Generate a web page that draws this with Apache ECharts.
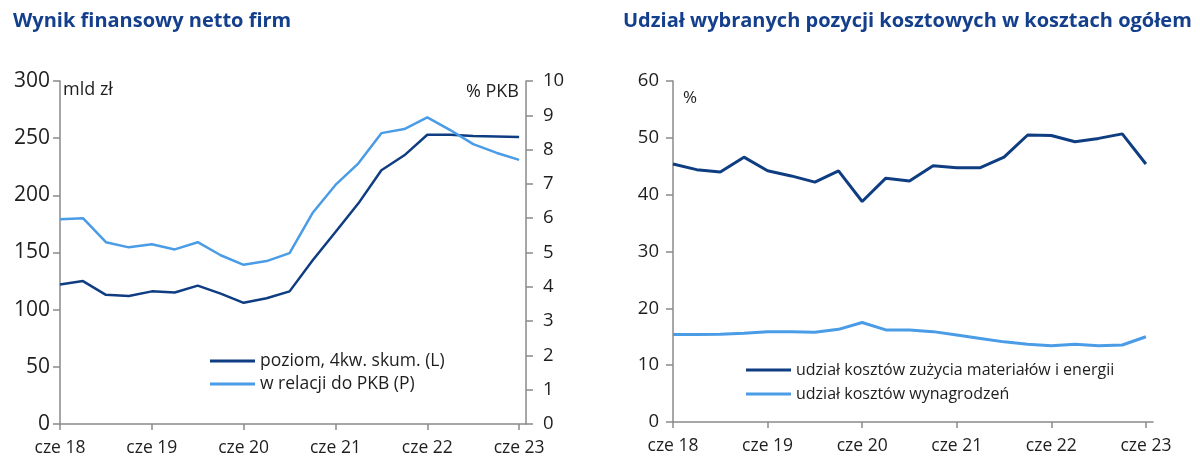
<!DOCTYPE html>
<html>
<head>
<meta charset="utf-8">
<script src="https://cdn.jsdelivr.net/npm/echarts@6/dist/echarts.min.js"></script>
<style>
  html, body { margin: 0; padding: 0; background: #fff; }
  #chart-container { width: 1200px; height: 470px; }
</style>
</head>
<body>
<div id="chart-container"></div>
<script>
// quarters from cze 18 to cze 23 (index 0..20)
var tickLabels = ["cze 18", "cze 19", "cze 20", "cze 21", "cze 22", "cze 23"];
var tickPos = [0, 4, 8, 12, 16, 20];

// left chart: wynik finansowy netto
var poziom = [122, 125, 113, 112, 116, 115, 121, 114, 106, 110, 116, 143, 168, 193, 222, 235, 253, 253, 252, 251.5, 251];
var relacjaPKB = [5.97, 6.0, 5.3, 5.15, 5.24, 5.09, 5.3, 4.92, 4.64, 4.75, 4.98, 6.15, 6.97, 7.6, 8.48, 8.6, 8.94, 8.57, 8.16, 7.91, 7.7];

// right chart: udzial kosztow
var materialy = [45.4, 44.4, 44.0, 46.6, 44.2, 43.3, 42.2, 44.2, 38.8, 42.9, 42.4, 45.1, 44.75, 44.75, 46.6, 50.5, 50.4, 49.3, 49.9, 50.7, 45.4];
var wynagrodzenia = [15.4, 15.4, 15.45, 15.6, 15.9, 15.9, 15.8, 16.3, 17.5, 16.2, 16.2, 15.9, 15.3, 14.7, 14.1, 13.7, 13.4, 13.7, 13.4, 13.55, 15.0];

var darkBlue = "#0f3d82";
var lightBlue = "#4a9ce6";
var axisGray = "#8a8a8a";
var textColor = "#1e1e1e";
var font = "Open Sans";

function pairs(arr) {
  return arr.map(function (v, i) { return [i, v]; });
}

function xAxisFor(gridIndex) {
  return {
    type: "value",
    gridIndex: gridIndex,
    min: 0,
    max: 20.3,
    interval: 4,
    splitLine: { show: false },
    axisLine: { lineStyle: { color: axisGray, width: 1.5 } },
    axisTick: { show: true, length: 6, customValues: tickPos, lineStyle: { color: axisGray, width: 1.5 } },
    axisLabel: {
      customValues: tickPos,
      margin: 15,
      color: textColor,
      fontFamily: font,
      fontSize: 17.5,
      formatter: function (v) { return tickLabels[Math.round(v / 4)] || ""; }
    }
  };
}

var dom = document.getElementById("chart-container");
var myChart = echarts.init(dom, null, { renderer: "canvas" });

var option = {
  animation: false,
  textStyle: { fontFamily: font },
  title: [
    {
      text: "Wynik finansowy netto firm",
      left: 8, top: 6,
      textStyle: { color: "#143f8c", fontSize: 20, fontWeight: "bold", fontFamily: font }
    },
    {
      text: "Udział wybranych pozycji kosztowych w kosztach ogółem",
      left: 618, top: 6,
      textStyle: { color: "#143f8c", fontSize: 20, fontWeight: "bold", fontFamily: font }
    }
  ],
  grid: [
    { left: 60, right: 674, top: 81, bottom: 46 },
    { left: 673, right: 47, top: 81, bottom: 48 }
  ],
  xAxis: [xAxisFor(0), xAxisFor(1)],
  yAxis: [
    {
      type: "value", gridIndex: 0, min: 0, max: 300, interval: 50,
      splitLine: { show: false },
      axisLine: { show: true, lineStyle: { color: axisGray, width: 1.5 } },
      axisTick: { show: true, length: 7, lineStyle: { color: axisGray, width: 1.5 } },
      axisLabel: { margin: 10, color: textColor, fontSize: 21, fontFamily: font }
    },
    {
      type: "value", gridIndex: 0, position: "right", min: 0, max: 10, interval: 1,
      splitLine: { show: false },
      axisLine: { show: true, lineStyle: { color: axisGray, width: 1.5 } },
      axisTick: { show: true, length: 7, lineStyle: { color: axisGray, width: 1.5 } },
      axisLabel: { margin: 17, color: textColor, fontSize: 18.5, fontFamily: font }
    },
    {
      type: "value", gridIndex: 1, min: 0, max: 60, interval: 10,
      splitLine: { show: false },
      axisLine: { show: true, lineStyle: { color: axisGray, width: 1.5 } },
      axisTick: { show: true, length: 7, lineStyle: { color: axisGray, width: 1.5 } },
      axisLabel: { margin: 14, color: textColor, fontSize: 18.5, fontFamily: font }
    }
  ],
  legend: [
    {
      orient: "vertical", left: 205, top: 347, icon: "rect",
      itemWidth: 45, itemHeight: 3, itemGap: 5,
      textStyle: { color: textColor, fontSize: 17.5, fontFamily: font },
      data: ["poziom, 4kw. skum. (L)", "w relacji do PKB (P)"]
    },
    {
      orient: "vertical", left: 741, top: 357, icon: "rect",
      itemWidth: 45, itemHeight: 3, itemGap: 8,
      textStyle: { color: textColor, fontSize: 16, fontFamily: font },
      data: ["udział kosztów zużycia materiałów i energii", "udział kosztów wynagrodzeń"]
    }
  ],
  graphic: [
    { type: "text", left: 63, top: 81, style: { text: "mld zł", fill: textColor, font: "18px 'Open Sans'" } },
    { type: "text", right: 681, top: 83, style: { text: "% PKB", fill: textColor, font: "18px 'Open Sans'" } },
    { type: "text", left: 683, top: 90, style: { text: "%", fill: textColor, font: "17px 'Open Sans'" } }
  ],
  series: [
    {
      name: "poziom, 4kw. skum. (L)", type: "line", xAxisIndex: 0, yAxisIndex: 0,
      data: pairs(poziom), symbol: "none",
      lineStyle: { color: darkBlue, width: 2.5 }, itemStyle: { color: darkBlue }
    },
    {
      name: "w relacji do PKB (P)", type: "line", xAxisIndex: 0, yAxisIndex: 1,
      data: pairs(relacjaPKB), symbol: "none",
      lineStyle: { color: lightBlue, width: 2.5 }, itemStyle: { color: lightBlue }
    },
    {
      name: "udział kosztów zużycia materiałów i energii", type: "line", xAxisIndex: 1, yAxisIndex: 2,
      data: pairs(materialy), symbol: "none",
      lineStyle: { color: darkBlue, width: 3 }, itemStyle: { color: darkBlue }
    },
    {
      name: "udział kosztów wynagrodzeń", type: "line", xAxisIndex: 1, yAxisIndex: 2,
      data: pairs(wynagrodzenia), symbol: "none",
      lineStyle: { color: lightBlue, width: 3 }, itemStyle: { color: lightBlue }
    }
  ]
};

myChart.setOption(option);
window.addEventListener("resize", myChart.resize);
</script>
</body>
</html>
